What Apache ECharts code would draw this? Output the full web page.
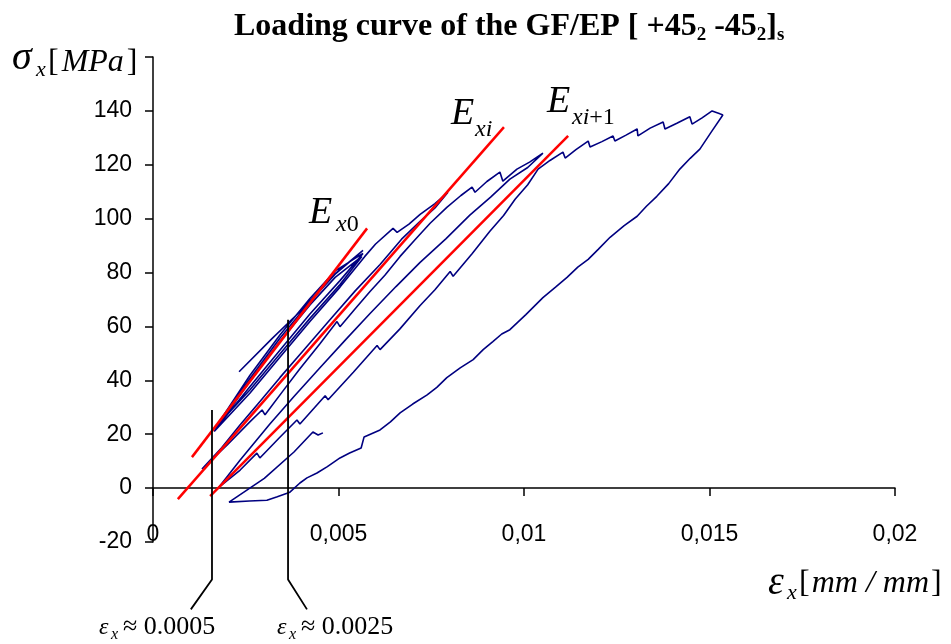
<!DOCTYPE html>
<html><head><meta charset="utf-8">
<script src="https://cdn.jsdelivr.net/npm/echarts@6/dist/echarts.min.js"></script>
<style>html,body{margin:0;padding:0;background:#fff}#c{width:951px;height:644px}</style>
</head><body><div id="c"></div>
<script>
// ---- tick labels ----
const xTickLabels = ['0', '0,005', '0,01', '0,015', '0,02'];
const yTickLabels = ['-20', '0', '20', '40', '60', '80', '100', '120', '140', ''];

// ---- blue loading curve (strain, stress MPa), in recorded order ----
const loadStart = [[0.00232, 43.2], [0.00320, 55.4], [0.00400, 66.0], [0.00491, 79.6], [0.00566, 88.2]];
const cycle1Unload1 = [[0.00491, 79.4], [0.00423, 69.2], [0.00342, 55.6], [0.00261, 40.6], [0.00167, 21.6]];
const cycle1Reload1 = [[0.00261, 37.6], [0.00342, 51.2], [0.00423, 64.6], [0.00504, 77.0], [0.00566, 87.1]];
const cycle1Unload2 = [[0.00491, 80.6], [0.00423, 70.4], [0.00342, 56.8], [0.00261, 41.8], [0.00170, 22.8]];
const cycle1Reload2 = [[0.00261, 36.4], [0.00342, 49.8], [0.00423, 63.0], [0.00504, 75.6], [0.00563, 86.0]];
const cycle1Unload3 = [[0.00491, 78.2], [0.00423, 68.0], [0.00342, 54.4], [0.00261, 39.6], [0.00165, 21.0]];
const cycle1Reload3 = [[0.00261, 35.2], [0.00342, 48.6], [0.00423, 61.8], [0.00504, 74.6], [0.00571, 86.0]];
const envelope12 = [[0.00600, 90.6], [0.00647, 96.4], [0.00658, 94.9], [0.00690, 98.0], [0.00720, 101.6], [0.00760, 105.6], [0.00795, 109.8]];
const unload2 = [[0.00760, 104.0], [0.00720, 99.0], [0.00670, 92.4], [0.00612, 83.0], [0.00545, 73.2], [0.00477, 62.5],
                 [0.00410, 51.8], [0.00342, 41.0], [0.00290, 32.4], [0.00235, 23.5], [0.00185, 15.0], [0.00132, 7.1]];
const reload2 = [[0.00200, 16.0], [0.00261, 24.6], [0.00294, 29.0], [0.00302, 27.2], [0.00350, 36.0], [0.00396, 44.3],
                 [0.00450, 53.6], [0.00496, 61.8], [0.00504, 59.9], [0.00545, 66.6], [0.00585, 73.0], [0.00625, 79.0],
                 [0.00666, 86.0], [0.00705, 92.0], [0.00747, 98.3], [0.00792, 104.2]];
const envelope23 = [[0.00830, 108.6], [0.00860, 111.7], [0.00868, 109.8], [0.00900, 113.8], [0.00935, 117.3], [0.00943, 113.9],
                    [0.00981, 118.4], [0.01015, 121.0], [0.01051, 124.3]];
const unload3 = [[0.01010, 119.0], [0.00962, 114.7], [0.00910, 108.0], [0.00854, 101.3], [0.00790, 92.6], [0.00720, 83.8],
                 [0.00655, 74.8], [0.00585, 64.8], [0.00520, 55.2], [0.00450, 44.7], [0.00380, 34.0], [0.00315, 23.8],
                 [0.00235, 10.4], [0.00178, 0.4]];
const reload3 = [[0.00235, 6.7], [0.00280, 13.0], [0.00288, 11.2], [0.00340, 18.6], [0.00388, 25.3], [0.00396, 23.8],
                 [0.00464, 34.3], [0.00472, 32.8], [0.00540, 43.0], [0.00604, 52.9], [0.00612, 51.4], [0.00665, 59.0],
                 [0.00720, 67.8], [0.00760, 73.6], [0.00801, 80.4], [0.00809, 78.6], [0.00860, 87.0], [0.00908, 95.3],
                 [0.00945, 101.2], [0.00976, 107.2], [0.01010, 112.6], [0.01038, 118.4]];
const envelope34 = [[0.01070, 121.6], [0.01105, 124.7], [0.01111, 122.5], [0.01140, 125.6], [0.01173, 128.8], [0.01178, 126.6],
                    [0.01210, 128.6], [0.01240, 130.7], [0.01245, 128.8], [0.01275, 131.0], [0.01305, 133.3], [0.01307, 130.7],
                    [0.01340, 133.6], [0.01375, 135.9], [0.01380, 133.3], [0.01412, 135.4], [0.01447, 137.8], [0.01453, 135.1],
                    [0.01480, 137.4], [0.01507, 140.0], [0.01528, 138.9], [0.01536, 138.5]];
const unload4 = [[0.01505, 132.2], [0.01474, 125.8], [0.01448, 122.4], [0.01420, 118.4], [0.01390, 113.0], [0.01358, 108.3],
                 [0.01330, 104.6], [0.01305, 100.9], [0.01270, 97.4], [0.01232, 93.1], [0.01200, 88.6], [0.01173, 84.9],
                 [0.01145, 82.0], [0.01116, 78.2], [0.01085, 74.6], [0.01051, 70.7], [0.01005, 64.4], [0.00962, 58.8],
                 [0.00940, 57.2], [0.00916, 54.4], [0.00890, 51.4], [0.00863, 47.7], [0.00828, 44.6], [0.00792, 41.0],
                 [0.00765, 37.4], [0.00739, 34.6], [0.00700, 31.2], [0.00666, 27.9], [0.00640, 24.6], [0.00612, 21.6],
                 [0.00569, 19.0], [0.00561, 14.9], [0.00530, 13.0], [0.00504, 11.2], [0.00470, 8.0], [0.00442, 5.6],
                 [0.00415, 3.8], [0.00396, 1.9], [0.00369, -1.5], [0.00335, -3.2], [0.00307, -4.5], [0.00260, -4.8],
                 [0.00205, -5.2]];
const reload4 = [[0.00300, 3.6], [0.00380, 13.4], [0.00431, 20.8], [0.00445, 19.7], [0.00458, 20.5]];

// ---- red modulus lines ----
const lineEx0 = [[0.00105, 11.5], [0.00577, 96.4]];
const lineExi = [[0.00067, -4.1], [0.00946, 134.0]];
const lineExi1 = [[0.00154, -3.0], [0.01119, 130.7]];

// ---- black strain markers ----
const markerLow = [[0.00159, 29.0], [0.00159, -33.9], [0.00102, -45.0]];
const markerHigh = [[0.00364, 62.5], [0.00364, -33.9], [0.00415, -45.0]];

const curve = [].concat(loadStart, cycle1Unload1, cycle1Reload1, cycle1Unload2, cycle1Reload2,
  cycle1Unload3, cycle1Reload3, envelope12, unload2, reload2, envelope23, unload3, reload3,
  envelope34, unload4, reload4);

const serif = 'Liberation Serif';
const sans = 'Liberation Sans';

function txt(x, y, text, size, italic, extra) {
  return Object.assign({
    type: 'text', x: x, y: y, silent: true,
    style: { text: text, fontFamily: serif, fontSize: size, fontStyle: italic ? 'italic' : 'normal',
             fill: '#000', align: 'left', verticalAlign: 'top' }
  }, extra || {});
}
function sub(x, y, text) {
  return { type: 'text', x: x, y: y, silent: true,
    style: { text: text, fill: '#000', align: 'left', verticalAlign: 'top',
      rich: { i: { fontFamily: serif, fontSize: 24, fontStyle: 'italic', fill: '#000' },
              u: { fontFamily: serif, fontSize: 24, fill: '#000' } } } };
}

const chart = echarts.init(document.getElementById('c'), null, { renderer: 'canvas' });
chart.setOption({
  animation: false,
  backgroundColor: '#fff',
  title: {
    text: 'Loading curve of the GF/EP [ +45{s|2} -45{s|2}]{s|s}',
    left: 229, top: 4,
    textStyle: {
      fontFamily: serif, fontWeight: 'bold', fontSize: 32, color: '#000',
      rich: { s: { fontFamily: serif, fontWeight: 'bold', fontSize: 19, color: '#000', verticalAlign: 'top', padding: [17, 0, 0, 0] } }
    }
  },
  grid: { left: 153, right: 56, top: 57, bottom: 102, outerBoundsMode: 'none', containLabel: false },
  xAxis: {
    type: 'value', min: 0, max: 0.02, interval: 0.005,
    axisLine: { show: true, onZero: true, lineStyle: { color: '#000', width: 1.5 } },
    axisTick: { show: true, inside: false, length: 8, lineStyle: { color: '#000', width: 1.5 } },
    axisLabel: {
      margin: -19, fontFamily: sans, fontSize: 23, color: '#000',
      formatter: function (v) { return xTickLabels[Math.round(v / 0.005)]; }
    },
    splitLine: { show: false }
  },
  yAxis: {
    type: 'value', min: -20, max: 160, interval: 20,
    axisLine: { show: true, onZero: false, lineStyle: { color: '#000', width: 1.5 } },
    axisTick: { show: true, inside: false, length: 8, lineStyle: { color: '#000', width: 1.5 } },
    axisLabel: {
      margin: 21, fontFamily: sans, fontSize: 23, color: '#000',
      formatter: function (v) { return yTickLabels[Math.round((v + 20) / 20)]; }
    },
    splitLine: { show: false }
  },
  series: [
    { type: 'line', data: curve, showSymbol: false, symbol: 'none', z: 2,
      lineStyle: { color: '#000080', width: 1.6 } },
    { type: 'line', data: lineEx0, showSymbol: false, symbol: 'none', z: 3, lineStyle: { color: '#ff0000', width: 2.5 } },
    { type: 'line', data: lineExi, showSymbol: false, symbol: 'none', z: 3, lineStyle: { color: '#ff0000', width: 2.5 } },
    { type: 'line', data: lineExi1, showSymbol: false, symbol: 'none', z: 3, lineStyle: { color: '#ff0000', width: 2.5 } },
    { type: 'line', data: markerLow, showSymbol: false, symbol: 'none', clip: false, z: 4, lineStyle: { color: '#000', width: 1.8 } },
    { type: 'line', data: markerHigh, showSymbol: false, symbol: 'none', clip: false, z: 4, lineStyle: { color: '#000', width: 1.8 } }
  ],
  graphic: [
    // y axis name sigma_x [MPa]
    txt(12, 38, 'σ', 40, true),
    txt(36, 59, 'x', 22, true),
    { type: 'text', x: 48, y: 47, silent: true,
      style: { text: '{b|[}{i|MPa}{b|]}', fill: '#000', align: 'left', verticalAlign: 'top',
        rich: { b: { fontFamily: serif, fontSize: 32, fill: '#000' },
                i: { fontFamily: serif, fontSize: 32, fontStyle: 'italic', fill: '#000', padding: [0, 3, 0, 3] } } } },
    // x axis name eps_x [mm/mm]
    txt(768, 563, 'ε', 40, true),
    txt(787, 582, 'x', 22, true),
    { type: 'text', x: 799, y: 568, silent: true,
      style: { text: '{b|[}{i|mm / mm}{b|]}', fill: '#000', align: 'left', verticalAlign: 'top',
        rich: { b: { fontFamily: serif, fontSize: 32, fill: '#000' },
                i: { fontFamily: serif, fontSize: 32, fontStyle: 'italic', fill: '#000', padding: [0, 2, 0, 2] } } } },
    // modulus labels
    txt(309, 194, 'E', 38, true),
    sub(336, 213, '{i|x}{u|0}'),
    txt(451, 95, 'E', 38, true),
    sub(475, 118, '{i|xi}'),
    txt(547, 83, 'E', 38, true),
    sub(572, 106, '{i|xi}{u|+1}'),
    // strain labels
    txt(99, 616, 'ε', 24, true),
    txt(111, 627, 'x', 16, true),
    txt(123, 614, '≈ 0.0005', 26, false),
    txt(277, 616, 'ε', 24, true),
    txt(289, 627, 'x', 16, true),
    txt(301, 614, '≈ 0.0025', 26, false)
  ]
});
</script></body></html>
